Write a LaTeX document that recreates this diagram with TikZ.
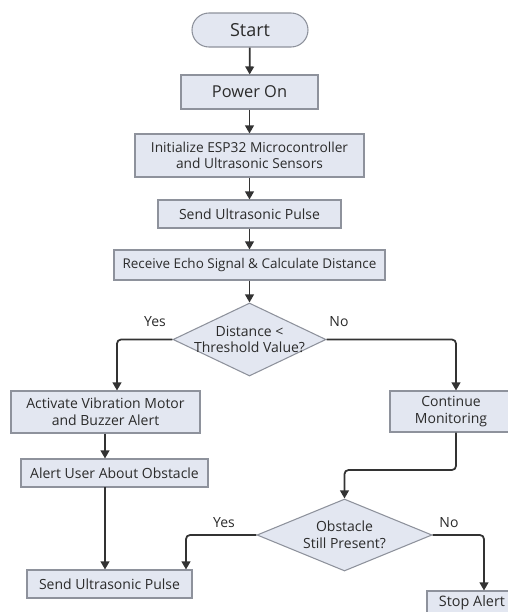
\documentclass[tikz,border=0pt]{standalone}
\usepackage{fontspec}
\setmainfont{Open Sans}
\usetikzlibrary{shapes.geometric,arrows.meta}
\definecolor{boxfill}{HTML}{E3E7F1}
\definecolor{boxline}{HTML}{8E929C}
\definecolor{arrcol}{HTML}{333333}
\definecolor{txtcol}{HTML}{2B2B2B}
\newcommand{\zl}[1]{\makebox[0pt]{#1}}
\tikzset{
  base/.style={draw=boxline, fill=boxfill, line width=0.8pt, text=txtcol, align=center, inner sep=0pt},
  procbox/.style={base, rectangle},
  termbox/.style={base, rectangle, rounded corners=12.75pt},
  decbox/.style={base, diamond, aspect=2.2},
  arr/.style={draw=arrcol, line width=1.3pt, rounded corners=3pt, -{Triangle[length=6pt,width=6.5pt]}},
  lbl/.style={text=txtcol, font=\fontsize{10.5}{12}\selectfont}
}
\begin{document}
\begin{tikzpicture}[x=0.75pt,y=-0.75pt]
\clip (0,0) rectangle (508,612);
\fill[white] (0,0) rectangle (508,612);
% nodes
\node[termbox, minimum width=87pt, minimum height=25.5pt, font=\fontsize{13.5}{15}\selectfont] (start) at (250,30) {Start};
\node[procbox, minimum width=102.75pt, minimum height=25.5pt, font=\fontsize{12.3}{14}\selectfont] (power) at (249.5,92) {Power On};
\node[procbox, minimum width=171.75pt, minimum height=32.25pt, font=\fontsize{10.3}{12.5}\selectfont] (init) at (249.5,155.5) {Initialize ESP32 Microcontroller\\and Ultrasonic Sensors};
\node[procbox, minimum width=137.25pt, minimum height=21pt, font=\fontsize{10.5}{12}\selectfont] (send1) at (249.5,214) {Send Ultrasonic Pulse};
\node[procbox, minimum width=203.25pt, minimum height=22.5pt, font=\fontsize{10.1}{12}\selectfont] (recv) at (249.5,265) {Receive Echo Signal \& Calculate Distance};
\node[decbox, minimum width=114.75pt, minimum height=54.75pt, font=\fontsize{10.5}{12.5}\selectfont] (d1) at (249.5,339.5) {\zl{Distance <}\\\zl{Threshold Value?}};
\node[procbox, minimum width=141.75pt, minimum height=31.5pt, font=\fontsize{10.5}{12.5}\selectfont] (act) at (105.5,412) {Activate Vibration Motor\\and Buzzer Alert};
\node[procbox, minimum width=91.5pt, minimum height=30.75pt, font=\fontsize{10.5}{12.5}\selectfont] (cont) at (451,411.5) {Continue\\Monitoring};
\node[procbox, minimum width=140.25pt, minimum height=21pt, font=\fontsize{10.5}{12}\selectfont] (alert) at (114.5,473) {Alert User About Obstacle};
\node[procbox, minimum width=123.75pt, minimum height=21pt, font=\fontsize{10.5}{12}\selectfont] (send2) at (109.5,584) {Send Ultrasonic Pulse};
\node[decbox, aspect=2.43, minimum width=131.25pt, minimum height=54pt, font=\fontsize{10.5}{12.5}\selectfont] (d2) at (344.5,535) {\zl{Obstacle}\\\zl{Still Present?}};
\node[procbox, minimum width=67.5pt, minimum height=18pt, font=\fontsize{10.8}{12}\selectfont] (stop) at (472,603) {Stop Alert};
% labels
\node[lbl] (y1) at (155,322) {Yes};
\node[lbl] (n1) at (339,322) {No};
\node[lbl] (y2) at (224,523) {Yes};
\node[lbl] (n2) at (449,523) {No};
% helper coordinates
\coordinate (c1) at (117,339.5);
\coordinate (c2) at (456,339.5);
\coordinate (c3) at (456,470);
\coordinate (c4) at (344.5,470);
\coordinate (c5) at (186,535);
\coordinate (c6) at (484,535);
\coordinate (c7) at (105,487);
% connectors
\draw[arr] (start) -- (power);
\draw[arr] (power) -- (init);
\draw[arr] (init) -- (send1);
\draw[arr] (send1) -- (recv);
\draw[arr] (recv) -- (d1);
\draw[arr] (d1.west) -- (c1) -- (c1 |- act.north);
\draw[arr] (d1.east) -- (c2) -- (c2 |- cont.north);
\draw[arr] (c7 |- act.south) -- (c7 |- alert.north);
\draw[arr] (c7) -- (c7 |- send2.north);
\draw[arr] (c3 |- cont.south) -- (c3) -- (c4) -- (d2.north);
\draw[arr] (d2.west) -- (c5) -- (c5 |- send2.north);
\draw[arr] (d2.east) -- (c6) -- (c6 |- stop.north);
\end{tikzpicture}
\end{document}
